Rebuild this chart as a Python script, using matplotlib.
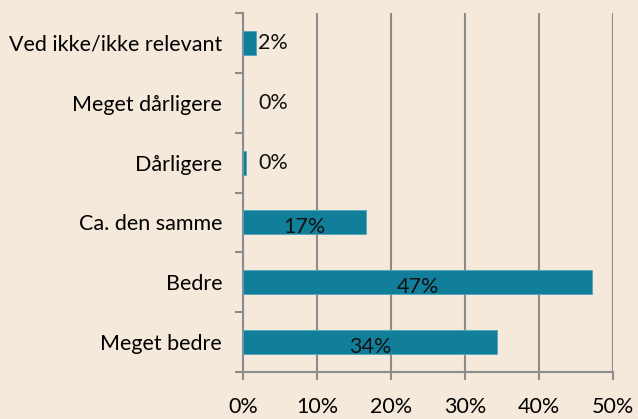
import matplotlib
matplotlib.use("Agg")
import matplotlib.pyplot as plt
import numpy as np

categories = ["Meget bedre", "Bedre", "Ca. den samme", "Dårligere", "Meget dårligere", "Ved ikke/ikke relevant"]
values = [34.3, 47.2, 16.6, 0.4, 0.0, 1.8]
labels = ["34%", "47%", "17%", "0%", "0%", "2%"]
xticks = [0, 10, 20, 30, 40, 50]
xticklabels = ["0%", "10%", "20%", "30%", "40%", "50%"]

bg = "#F5E9DB"
bar_color = "#117E9A"
grid_color = "#8C8C8C"

plt.rcParams['font.family'] = ['Lato', 'DejaVu Sans']
fs = 15.5

fig = plt.figure(figsize=(6.38, 4.19), dpi=100, facecolor=bg)
ax = fig.add_axes([0.381, 0.112, 0.580, 0.857])
ax.set_facecolor(bg)

y = np.arange(len(categories))
ax.barh(y, values, height=0.4, color=bar_color, edgecolor="#4FA6BD", linewidth=0.6, zorder=3)

ax.set_xlim(0, 50)
ax.set_ylim(-0.5, len(categories) - 0.5)
ax.set_xticks(xticks)
ax.set_xticklabels(xticklabels, fontsize=fs)
ax.set_yticks(y)
ax.set_yticklabels(categories, fontsize=fs)
ax.set_yticks(np.arange(-0.5, len(categories), 1), minor=True)

ax.tick_params(axis='y', which='major', length=0, pad=15)
ax.tick_params(axis='y', which='minor', length=6, width=1.5, color=grid_color)
ax.tick_params(axis='x', which='major', length=6, width=1.5, color=grid_color, pad=12)

ax.grid(axis='x', color=grid_color, linewidth=1.5, zorder=0)
for s in ['top', 'right']:
    ax.spines[s].set_visible(False)
for s in ['left', 'bottom']:
    ax.spines[s].set_color(grid_color)
    ax.spines[s].set_linewidth(1.5)

for yi, v, lab in zip(y, values, labels):
    if v < 5:
        ax.text(max(v, 1.8) + 0.2, yi, lab, ha='left', va='center', fontsize=fs, color='#111111', zorder=4)
    else:
        ax.text(v / 2, yi - 0.08, lab, ha='center', va='center', fontsize=fs, color='#111111', zorder=4)

fig.savefig("out.png", dpi=100, facecolor=bg)
